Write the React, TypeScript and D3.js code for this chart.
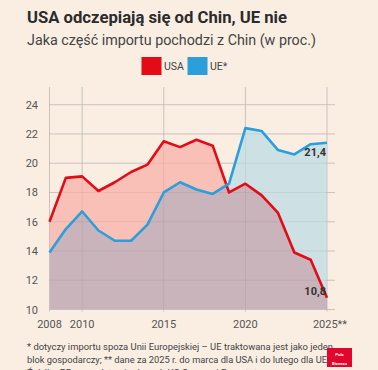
import React from 'react'
import * as d3 from 'd3'

const years = [2008, 2009, 2010, 2011, 2012, 2013, 2014, 2015, 2016, 2017, 2018, 2019, 2020, 2021, 2022, 2023, 2024, 2025]
const usa = [16.0, 19.0, 19.1, 18.1, 18.7, 19.4, 19.9, 21.5, 21.1, 21.6, 21.2, 18.0, 18.6, 17.8, 16.6, 13.9, 13.4, 10.8]
const ue = [13.9, 15.5, 16.7, 15.4, 14.7, 14.7, 15.8, 18.0, 18.7, 18.2, 17.9, 18.6, 22.4, 22.2, 20.9, 20.6, 21.3, 21.4]
const xTicks = [2008, 2010, 2015, 2020, 2025]
const xTickLabels = ['2008', '2010', '2015', '2020', '2025**']
const yTicks = [10, 12, 14, 16, 18, 20, 22, 24]

const W = 378
const H = 370
const BG = '#faeee3'
const RED = '#e30b17'
const BLUE = '#2b9fdb'
const FONT = "Roboto, 'Open Sans', sans-serif"

const App = () => {
  const x = d3.scaleLinear().domain([2008, 2025]).range([49.5, 327])
  const y = d3.scaleLinear().domain([10, 24]).range([309.5, 104.7])

  const pts = (vals: number[]) => years.map((yr, i) => [yr, vals[i]] as [number, number])

  const area = d3
    .area<[number, number]>()
    .x((d) => x(d[0]))
    .y0(y(10))
    .y1((d) => y(d[1]))
  const line = d3
    .line<[number, number]>()
    .x((d) => x(d[0]))
    .y((d) => y(d[1]))

  const usaPts = pts(usa)
  const uePts = pts(ue)
  const fmt = (v: number) => v.toFixed(1).replace('.', ',')

  return (
    <svg
      width={W}
      height={H}
      style={{ position: 'absolute', left: 0, top: 0, background: BG }}
      fontFamily={FONT}
    >
      <rect width={W} height={H} fill={BG} />
      <text x={27} y={22.5} fontSize={17} fontWeight={700} fill="#2b2b2b" textLength={260} lengthAdjust="spacingAndGlyphs">
        USA odczepiają się od Chin, UE nie
      </text>
      <text x={27} y={45} fontSize={15} fill="#444" textLength={289} lengthAdjust="spacingAndGlyphs">
        Jaka część importu pochodzi z Chin (w proc.)
      </text>

      {/* legend */}
      <rect x={141.5} y={57} width={20} height={18} fill={RED} />
      <text x={164} y={70} fontSize={10.5} fill="#444">USA</text>
      <rect x={187.5} y={57} width={20} height={18} fill={BLUE} />
      <text x={210} y={70} fontSize={10.5} fill="#444">UE*</text>

      <defs>
        <clipPath id="ueClip">
          <path d={area(uePts) ?? ''} />
        </clipPath>
      </defs>

      {/* grid */}
      {yTicks.map((t) => (
        <g key={t}>
          <line x1={49} x2={335} y1={y(t)} y2={y(t)} stroke="#d9cfc7" strokeWidth={1} />
          <text x={38} y={y(t) + 4} fontSize={11} fill="#555" textAnchor="end">
            {t}
          </text>
        </g>
      ))}
      {xTicks.map((t) => (
        <line key={t} x1={x(t)} x2={x(t)} y1={y(25.2)} y2={y(10) + 2} stroke="#d9cfc7" strokeWidth={1} />
      ))}

      {/* areas */}
      <path d={area(usaPts) ?? ''} fill="#f8c0b7" />
      <path d={area(uePts) ?? ''} fill="#cde0e4" />
      <path d={area(usaPts) ?? ''} fill="#c9b4bb" clipPath="url(#ueClip)" />

      {/* gridlines visible through areas */}
      {yTicks.map((t) => (
        <line key={'o' + t} x1={49} x2={335} y1={y(t)} y2={y(t)} stroke="#000" strokeOpacity={0.06} />
      ))}
      {xTicks.map((t) => (
        <line key={'v' + t} x1={x(t)} x2={x(t)} y1={y(25.2)} y2={y(10) + 2} stroke="#000" strokeOpacity={0.06} />
      ))}

      <path d={line(usaPts) ?? ''} fill="none" stroke={RED} strokeWidth={2.6} strokeLinejoin="round" />
      <path d={line(uePts) ?? ''} fill="none" stroke={BLUE} strokeWidth={2.6} strokeLinejoin="round" />

      <text x={x(2025) - 1} y={y(ue[ue.length - 1]) + 13} fontSize={11} fontWeight={700} fill="#333" textAnchor="end">
        {fmt(ue[ue.length - 1])}
      </text>
      <text x={x(2025) - 1} y={y(usa[usa.length - 1]) - 3} fontSize={11} fontWeight={700} fill="#333" textAnchor="end">
        {fmt(usa[usa.length - 1])}
      </text>

      {xTicks.map((t, i) => (
        <text key={'xl' + t} x={x(t) + (i === 4 ? 3 : 0)} y={328} fontSize={11} fill="#555" textAnchor="middle">
          {xTickLabels[i]}
        </text>
      ))}

      <text x={27} y={350} fontSize={9.5} fill="#444" textLength={306} lengthAdjust="spacingAndGlyphs">
        * dotyczy importu spoza Unii Europejskiej – UE traktowana jest jako jeden
      </text>
      <text x={27} y={363} fontSize={9.5} fill="#444" textLength={300} lengthAdjust="spacingAndGlyphs">
        blok gospodarczy; ** dane za 2025 r. do marca dla USA i do lutego dla UE
      </text>
      <text x={27} y={376} fontSize={9.5} fill="#444" textLength={230} lengthAdjust="spacingAndGlyphs">
        Źródło: PB na podstawie danych US Census i Eurostat
      </text>

      {/* logo */}
      <rect x={327} y={348} width={25} height={19} fill="#e2062c" />
      <text x={339.5} y={356} fontSize={4.2} fill="#fff" textAnchor="middle" fontWeight={700}>
        Puls
      </text>
      <text x={339.5} y={364.5} fontSize={4.2} fill="#fff" textAnchor="middle" fontWeight={700}>
        Biznesu
      </text>
    </svg>
  )
}

export default App
